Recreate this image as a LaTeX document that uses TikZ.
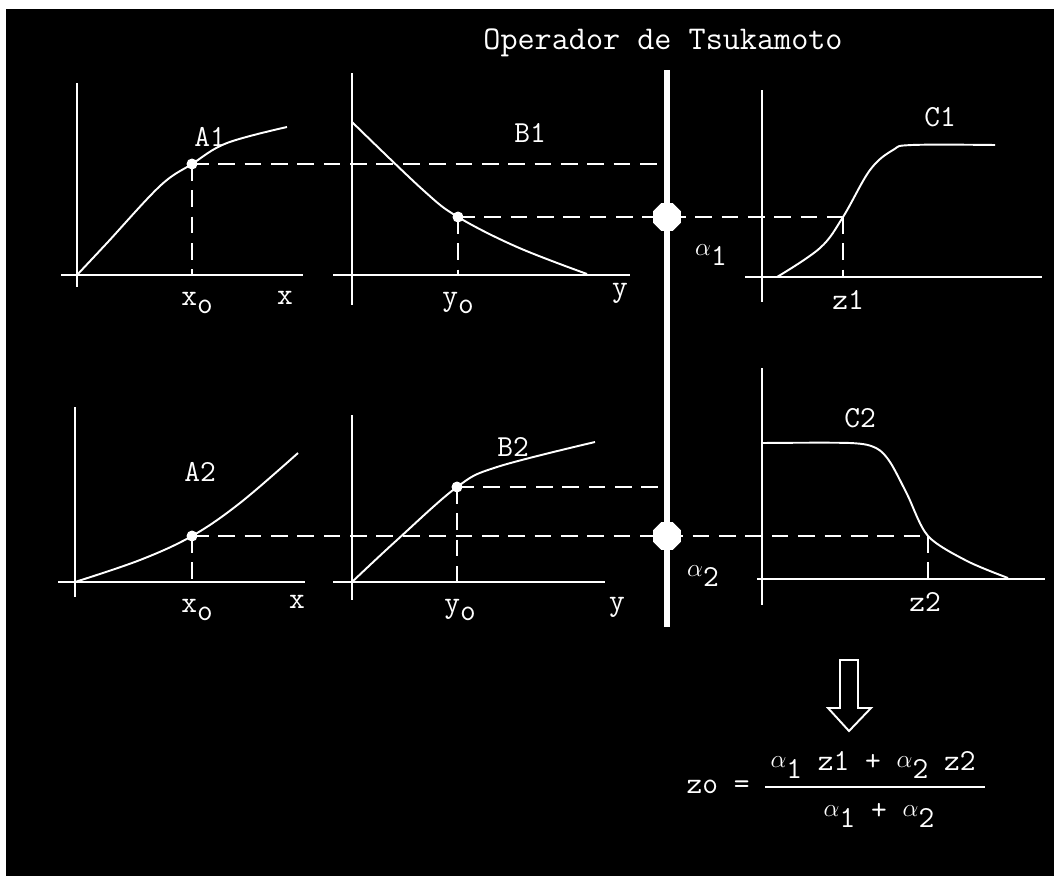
\documentclass[tikz,border=0pt]{standalone}
\usetikzlibrary{shapes.geometric}

\newcommand\sub[2]{#1\raisebox{-0.6ex}{#2}}
\newcommand\alf{\raisebox{0.2ex}{\fontsize{15}{15}\selectfont$\alpha$}}

\begin{document}
\begin{tikzpicture}[x=0.02cm, y=-0.02cm, line width=1.1pt, white,
        txt/.style={text=white, font=\ttfamily\fontsize{17.4}{18}\selectfont, inner sep=0pt},
        guide/.style={dash pattern=on 9.5pt off 5.5pt},
        ptdot/.style={circle, fill=white, inner sep=0pt, minimum size=0.22cm},
        knob/.style={regular polygon, regular polygon sides=8, fill=white, inner sep=0pt, minimum size=0.6cm}]
        \useasboundingbox (0,0) rectangle (1054,876);
        \fill[white] (0,0) rectangle (1054,876);
        \fill[black] (6,9) rectangle (1054,876);
        % origins of the six plots and the alpha bar
        \coordinate (oA1) at (77,275); \coordinate (oB1) at (352,275); \coordinate (oC1) at (762,277);
        \coordinate (oA2) at (75,582); \coordinate (oB2) at (352,582); \coordinate (oC2) at (762,579);
        \coordinate (barTop) at (667,70); \coordinate (barBot) at (667,627);
        \coordinate (a1pt) at (192,164); \coordinate (b1pt) at (458,217); \coordinate (c1pt) at (843,217);
        \coordinate (a2pt) at (192,536); \coordinate (b2pt) at (457,487); \coordinate (c2pt) at (928,536);
        % guides
        \draw[guide] (a1pt) -- (a1pt -| barTop);
        \draw[guide] (b1pt) -- (c1pt);
        \draw[guide] (b2pt) -- (b2pt -| barTop);
        \draw[guide] (a2pt) -- (c2pt);
        \draw[guide] (a1pt) -- (a1pt |- oA1);
        \draw[guide] (b1pt) -- (b1pt |- oB1);
        \draw[guide] (c1pt) -- (c1pt |- oC1);
        \draw[guide] (a2pt) -- (a2pt |- oA2);
        \draw[guide] (b2pt) -- (b2pt |- oB2);
        \draw[guide] (c2pt) -- (c2pt |- oC2);
        % axes
        \draw (77,83) -- (77,287) (61,275) -- (303,275);
        \draw (352,73) -- (352,305) (333,275) -- (630,275);
        \draw (762,90) -- (762,302) (745,277) -- (1042,277);
        \draw (75,407) -- (75,597) (58,582) -- (305,582);
        \draw (352,415) -- (352,600) (333,582) -- (605,582);
        \draw (762,368) -- (762,605) (757,579) -- (1045,579);
        % membership curves
        \draw plot[smooth, tension=0.6] coordinates {(oA1) (107,243) (160,186) (a1pt) (227,143) (287,127)};
        \draw plot[smooth, tension=0.6] coordinates {(352,122) (423,190) (b1pt) (517,247) (587,274)};
        \draw plot[smooth, tension=0.6] coordinates {(777,277) (820,248) (c1pt) (870,170) (893,150) (912,145) (995,145)};
        \draw plot[smooth, tension=0.6] coordinates {(oA2) (140,560) (a2pt) (240,503) (298,453)};
        \draw plot[smooth, tension=0.6] coordinates {(oB2) (397,540) (b2pt) (497,467) (595,442)};
        \draw plot[smooth, tension=0.5] coordinates {(762,443) (850,443) (876,448) (890,462) (907,494) (c2pt) (967,561) (1008,578)};
        % alpha bar
        \draw[line width=3pt] (barTop) -- (barBot);
        \node[knob] (alpha1) at (barTop |- b1pt) {};
        \node[knob] (alpha2) at (barTop |- a2pt) {};
        \node[ptdot] at (a1pt) {}; \node[ptdot] at (b1pt) {};
        \node[ptdot] at (a2pt) {}; \node[ptdot] at (b2pt) {};
        % labels
        \node[txt, font=\ttfamily\fontsize{18.9}{20}\selectfont] (title) at (663,43) {Operador de Tsukamoto};
        \node[txt] (lA1) at (210,137) {A1};
        \node[txt] (lB1) at (530,133) {B1};
        \node[txt] (lC1) at (940,117) {C1};
        \node[txt] (lA2) at (200,472) {A2};
        \node[txt] (lB2) at (513,447) {B2};
        \node[txt] (lC2) at (860,418) {C2};
        \node[txt] (xo1) at (197,303) {\sub{x}{o}};
        \node[txt] (x1) at (285,298) {x};
        \node[txt] (yo1) at (458,303) {\sub{y}{o}};
        \node[txt] (y1) at (620,293) {y};
        \node[txt] (xo2) at (197,610) {\sub{x}{o}};
        \node[txt] (x2) at (297,602) {x};
        \node[txt] (yo2) at (460,610) {\sub{y}{o}};
        \node[txt] (y2) at (617,607) {y};
        \node[txt] (lz1) at (848,300) {z1};
        \node[txt] (lz2) at (925,602) {z2};
        \node[txt] (la1) at (711,255) {\sub{\alf}{1}};
        \node[txt] (la2) at (703,576) {\sub{\alf}{2}};
        % result
        \draw (840,660) -- (858,660) -- (858,708) -- (871,708) -- (849,731) -- (828,708) -- (840,708) -- cycle;
        \node[txt] (zo) at (718,787) {zo =};
        \draw (765,787) -- (985,787);
        \node[txt] (num) at (873,765) {\sub{\alf}{1} z1 + \sub{\alf}{2} z2};
        \node[txt] (den) at (879,815) {\sub{\alf}{1} + \sub{\alf}{2}};
\end{tikzpicture}
\end{document}
